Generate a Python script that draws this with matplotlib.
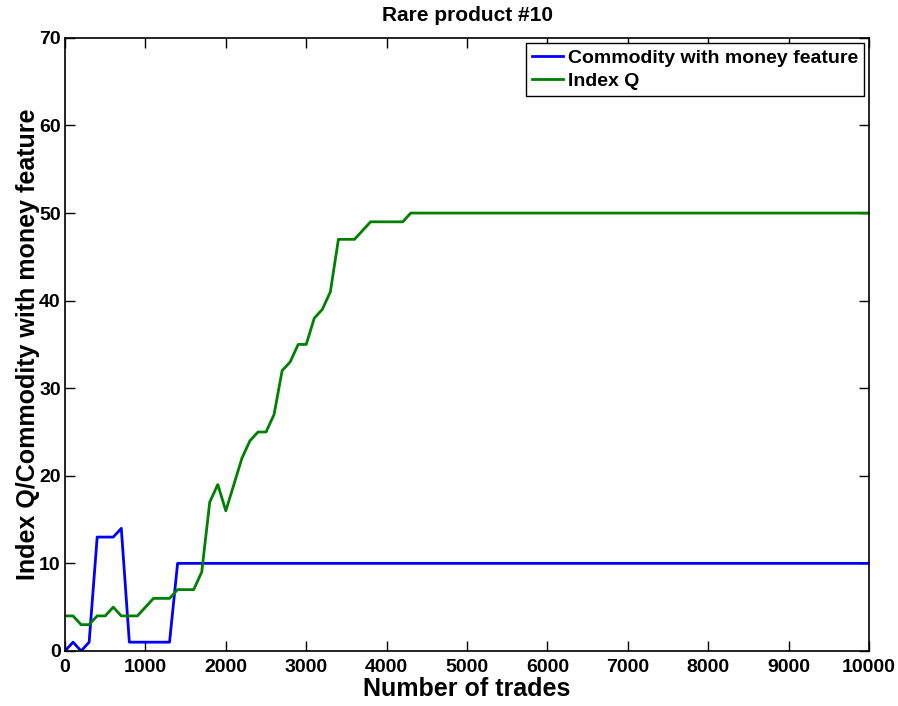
import numpy as np
import matplotlib.pyplot as plt

plt.rcParams['font.family'] = ['Liberation Sans', 'DejaVu Sans']
plt.rcParams['font.weight'] = 'bold'

# trades sampled every 100 steps
trades = np.arange(0, 10001, 100)

money_head = [0, 1, 0, 1, 13, 13, 13, 14, 1, 1, 1, 1, 1, 1, 10]
index_head = [4, 4, 3, 3, 4, 4, 5, 4, 4, 4, 5, 6, 6, 6, 7, 7, 7, 9, 17, 19,
              16, 19, 22, 24, 25, 25, 27, 32, 33, 35, 35, 38, 39, 41, 47, 47,
              47, 48, 49, 49, 49, 49, 49, 50]

money = money_head + [10] * (len(trades) - len(money_head))
index_q = index_head + [50] * (len(trades) - len(index_head))

fig = plt.figure(figsize=(8.98, 7.06), dpi=100)
ax = fig.add_axes([0.0724, 0.0780, 0.8954, 0.8683])

ax.plot(trades, money, color=(0, 0, 1), lw=2, label='Commodity with money feature')
ax.plot(trades, index_q, color=(0, 0.5, 0), lw=2, label='Index Q')

ax.set_xlim(0, 10000)
ax.set_ylim(0, 70)
ax.set_xticks(np.arange(0, 10001, 1000))
ax.set_yticks(np.arange(0, 71, 10))
ax.tick_params(direction='in', top=True, right=True, length=7, width=1,
               labelsize=14, pad=3)
ax.tick_params(axis='x', pad=6)
for lbl in ax.get_xticklabels() + ax.get_yticklabels():
    lbl.set_fontweight('bold')
for sp in ax.spines.values():
    sp.set_linewidth(1.2)

ax.set_title('Rare product #10', fontsize=15, fontweight='bold', pad=12)
ax.set_xlabel('Number of trades', fontsize=18, fontweight='bold')
ax.set_ylabel('Index Q/Commodity with money feature', fontsize=18,
              fontweight='bold')
ax.xaxis.set_label_coords(0.5, -0.042)
ax.yaxis.set_label_coords(-0.031, 0.5)

leg = ax.legend(loc='upper right', fontsize=14, handlelength=1.6,
                handletextpad=0.25, borderpad=0.3, labelspacing=0.3,
                fancybox=False, framealpha=1, edgecolor='black',
                borderaxespad=0.27)
leg.get_frame().set_linewidth(1)

fig.savefig('out.png', dpi=100)
